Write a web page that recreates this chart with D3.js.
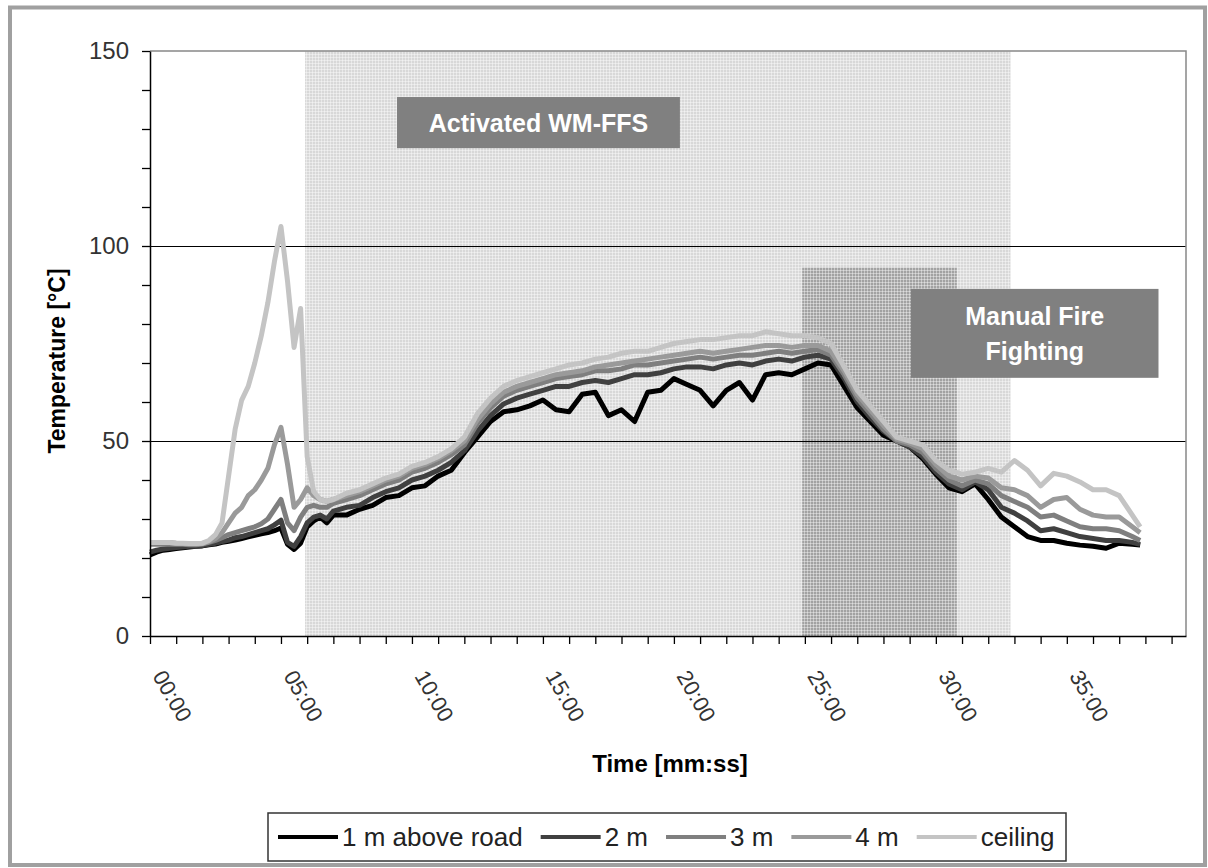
<!DOCTYPE html>
<html>
<head>
<meta charset="utf-8">
<script src="https://cdn.jsdelivr.net/npm/d3@7"></script>
<style>
body{margin:0;background:#fff;}
svg{display:block;font-family:"Liberation Sans",Arial,sans-serif;}
</style>
</head>
<body>
<svg id="chart" width="1208" height="868"></svg>
<script>
// time in minutes
var times = [0,0.25,0.5,0.75,1,1.25,1.5,1.75,2,2.25,
    2.5,2.75,3,3.25,3.5,3.75,4,4.25,4.5,4.75,
    5,5.25,5.5,5.75,6,6.25,6.5,6.75,7,
    7.5,8,8.5,9,9.5,10,10.5,11,11.5,12,
    12.5,13,13.5,14,14.5,15,15.5,16,16.5,17,
    17.5,18,18.5,19,19.5,20,20.5,21,21.5,22,
    22.5,23,23.5,24,24.5,25,25.5,26,26.5,27,
    27.5,28,28.5,29,29.5,30,30.5,31,31.5,32,
    32.5,33,33.5,34,34.5,35,35.5,36,36.5,37,
    37.5,37.8];

var t1m = [20.8,21.5,22,22.2,22.4,22.6,22.8,23,23.1,23.4,
    23.6,24,24.3,24.6,25,25.4,25.8,26.2,26.5,27,
    27.7,23.5,22.2,23.8,28,29.5,30.5,29,31,
    31,32.5,33.5,35.5,36,38,38.5,41,42.5,47,
    51,55,57.5,58,59,60.5,58,57.5,62,62.5,
    56.5,58,55,62.5,63,66,64.5,63,59,63,
    65,60.5,67,67.5,67,68.5,70,69.5,64,58.5,
    55,51.5,50,48.5,45.5,41.5,38,37,39,35,
    30.5,28,25.5,24.5,24.5,23.8,23.3,23,22.5,23.8,
    23.5,23.3];

var t2m = [21.5,22,22.3,22.5,22.7,22.8,23,23,23.2,23.5,
    23.8,24.2,24.6,25.2,25.5,26,26.5,27,27.5,28.5,
    29.7,24,23,25.5,29,30.5,31,30,32,
    33,33.5,35.5,37,38,40,41,42.5,44.5,47.5,
    52.5,56.5,59.5,61,62,63,64,64,65,65.5,
    65,66,67,67,67.5,68.5,69,69,68.5,69.5,
    70,69.5,70.5,71,70.5,71.5,72,71,66,60,
    56,52.5,50,48.5,46,42,39,37.5,39.5,37.5,
    33,31.5,29.5,27,27.5,26.5,25.5,25,24.5,24.5,
    24,23.5];

var t3m = [23.5,23.5,23.5,23.5,23.5,23.5,23.4,23.4,23.6,24,
    24.5,25.2,26,26.5,27,27.5,28,28.8,30,32.5,
    35,29,27,30.5,33,33.5,33,33,34,
    35,36,37.5,39,40,42,43,44.5,46.5,49,
    54.5,58.5,61.5,63,64,65,66,66.5,67,68,
    68,68.5,69.5,69.5,70,70.5,71,71.5,71,71.5,
    72,72,72.5,73,72.5,73,73.5,72,67,61,
    57,53,50,49,47,43,40,38.5,40,39,
    36,34.5,33,30.5,31,29.5,28,27.5,27.5,27,
    25.5,24.5];

var t4m = [24,24,24,24,23.8,23.7,23.6,23.6,23.7,24.2,
    25,26.5,29,31.5,33,36,37.5,40,43,49,
    53.5,44,33,35,38,36,35,34.5,35,
    36,37,38.5,40,41,43,44,45.5,47.5,50,
    55.5,59.5,62.5,64,65,66,67,67.5,68,69,
    69.5,70,70.5,71,71.5,72,72.5,73,72.5,73,
    73.5,74,74.5,74.5,74,74.5,74.5,73,68,62,
    58,54,50.5,49.5,48,44,41,40,41,40.5,
    38,37.5,36,33,35,35.5,32.5,31,30.5,30.5,
    28,26.5];

var tCeil = [24,24,24,24,23.8,23.8,23.7,23.7,23.8,24.5,
    26,29,41,53,60.5,64,70,77,85.5,96,
    105,91,74,84,46,37,35,34.5,35,
    36.6,37.5,39,40.5,41.5,43.5,44.5,46,48,51,
    57,61,64,65.5,66.5,67.5,68.5,69.5,70,71,
    71.5,72.5,73,73,74,75,75.5,76,76,76.5,
    77,77,78,77.5,77,77,76.5,75,69,63,
    59,55,51,50,49,45,42.5,41.5,42,43,
    42,45,42.5,38.5,41.7,41,39.5,37.5,37.5,36,
    31,28];

var seriesNames = ["1 m above road", "2 m", "3 m", "4 m", "ceiling"];
var seriesValues = [t1m, t2m, t3m, t4m, tCeil];
var seriesColors = ["#000000", "#404040", "#7f7f7f", "#9a9a9a", "#c4c4c4"];

// shaded phases [start min, end min, top temp]
var phaseWM = [5.92, 32.85, 150];
var phaseManual = [24.9, 30.8, 94.5];

var svg = d3.select("#chart");

var x = d3.scaleLinear().domain([0, 39.55]).range([150, 1186]);
var y = d3.scaleLinear().domain([0, 150]).range([636, 51]);

// outer frame
svg.append("rect")
    .attr("x", 10).attr("y", 7.5)
    .attr("width", 1195).attr("height", 857.5)
    .attr("fill", "#fff")
    .attr("stroke", "#a0a0a0")
    .attr("stroke-width", 4);

var defs = svg.append("defs");
var pat = defs.append("pattern")
    .attr("id", "grid")
    .attr("width", 3).attr("height", 3)
    .attr("patternUnits", "userSpaceOnUse");
pat.append("path")
    .attr("d", "M0 0.5H3M0.5 0V3")
    .attr("stroke", "#fff")
    .attr("stroke-opacity", 0.4)
    .attr("stroke-width", 1);

// shaded phases
svg.append("rect")
    .attr("x", x(phaseWM[0])).attr("y", y(phaseWM[2]))
    .attr("width", x(phaseWM[1]) - x(phaseWM[0]))
    .attr("height", y(0) - y(phaseWM[2]))
    .attr("fill", "#d8d8d8");
svg.append("rect")
    .attr("x", x(phaseManual[0])).attr("y", y(phaseManual[2]))
    .attr("width", x(phaseManual[1]) - x(phaseManual[0]))
    .attr("height", y(0) - y(phaseManual[2]))
    .attr("fill", "#a2a2a2");
svg.append("rect")
    .attr("x", x(phaseWM[0])).attr("y", y(phaseWM[2]))
    .attr("width", x(phaseWM[1]) - x(phaseWM[0]))
    .attr("height", y(0) - y(phaseWM[2]))
    .attr("fill", "url(#grid)");

// gridlines
svg.append("g")
    .selectAll("line")
    .data([50, 100])
    .enter()
    .append("line")
        .attr("x1", x.range()[0]).attr("x2", x.range()[1])
        .attr("y1", function(d){return y(d) + 0.5}).attr("y2", function(d){return y(d) + 0.5})
        .attr("stroke", "#000")
        .attr("stroke-width", 1.3)
        .attr("shape-rendering", "crispEdges");

// plot border top + right
svg.append("path")
    .attr("d", "M" + x.range()[0] + "," + y(150) + "H" + x.range()[1] + "V" + y(0))
    .attr("fill", "none")
    .attr("stroke", "#888")
    .attr("stroke-width", 1.5);

// lines
var line = d3.line()
    .x(function(d){return x(d[0])})
    .y(function(d){return y(d[1])});

svg.append("g")
    .selectAll("path")
    .data(seriesValues)
    .enter()
    .append("path")
        .attr("d", function(d){return line(d3.zip(times, d))})
        .attr("fill", "none")
        .attr("stroke", function(d, i){return seriesColors[i]})
        .attr("stroke-width", 5)
        .attr("stroke-linejoin", "round");

// annotation boxes
var notes = [
    {lines: ["Activated WM-FFS"], t0: 9.43, t1: 20.23, top: 138.2, bot: 125.1},
    {lines: ["Manual Fire", "Fighting"], t0: 29.05, t1: 38.5, top: 89, bot: 66.2}
];
var ng = svg.append("g").selectAll("g").data(notes).enter().append("g");
ng.append("rect")
    .attr("x", function(d){return x(d.t0)})
    .attr("y", function(d){return y(d.top)})
    .attr("width", function(d){return x(d.t1) - x(d.t0)})
    .attr("height", function(d){return y(d.bot) - y(d.top)})
    .attr("fill", "#808080");
ng.each(function(d){
    var g = d3.select(this);
    var cx = (x(d.t0) + x(d.t1)) / 2;
    var cy = (y(d.top) + y(d.bot)) / 2;
    var lh = 35;
    d.lines.forEach(function(s, i){
        g.append("text")
            .attr("x", cx)
            .attr("y", cy + (i - (d.lines.length - 1) / 2) * lh)
            .attr("dy", "0.36em")
            .attr("text-anchor", "middle")
            .attr("fill", "#fff")
            .attr("font-weight", "bold")
            .attr("font-size", 25)
            .text(s);
    });
});

// y axis
var yAxis = svg.append("g")
    .attr("transform", "translate(" + x.range()[0] + ",0)")
    .call(d3.axisLeft(y)
        .tickValues(d3.range(0, 151, 10))
        .tickSize(8)
        .tickSizeOuter(0)
        .tickPadding(13)
        .tickFormat(function(d){return d % 50 === 0 ? d : ""}));
yAxis.select(".domain").attr("stroke", "#000").attr("stroke-width", 1.5);
yAxis.selectAll(".tick line").attr("stroke", "#000").attr("stroke-width", 1.3);
yAxis.selectAll("text")
    .attr("font-family", "Liberation Sans, Arial, sans-serif")
    .attr("font-size", 24)
    .attr("fill", "#333");

// x axis
var xAxis = svg.append("g")
    .attr("transform", "translate(0," + y(0) + ")")
    .call(d3.axisBottom(x)
        .tickValues(d3.range(0, 40, 1))
        .tickSize(8)
        .tickSizeOuter(0)
        .tickFormat(""));
xAxis.select(".domain").attr("stroke", "#000").attr("stroke-width", 1.5);
xAxis.selectAll(".tick line").attr("stroke", "#000").attr("stroke-width", 1.3);

var fmt = d3.format("02d");
svg.append("g")
    .selectAll("text")
    .data(d3.range(0, 36, 5))
    .enter()
    .append("text")
        .attr("transform", function(d){return "translate(" + (x(d) + 2) + ",676) rotate(60)"})
        .attr("font-size", 22)
        .attr("fill", "#333")
        .text(function(d){return fmt(d) + ":00"});

// axis titles
svg.append("text")
    .attr("transform", "translate(65,361) rotate(-90)")
    .attr("text-anchor", "middle")
    .attr("font-weight", "bold")
    .attr("font-size", 23)
    .text("Temperature [°C]");
svg.append("text")
    .attr("x", 670).attr("y", 772)
    .attr("text-anchor", "middle")
    .attr("font-weight", "bold")
    .attr("font-size", 24)
    .text("Time [mm:ss]");

// legend
var legend = svg.append("g");
legend.append("rect")
    .attr("x", 268).attr("y", 813)
    .attr("width", 798).attr("height", 48)
    .attr("fill", "#fff")
    .attr("stroke", "#333")
    .attr("stroke-width", 1.5);
var lx = 278;
seriesNames.forEach(function(name, i){
    legend.append("line")
        .attr("x1", lx).attr("x2", lx + 60)
        .attr("y1", 837).attr("y2", 837)
        .attr("stroke", seriesColors[i])
        .attr("stroke-width", 4);
    var t = legend.append("text")
        .attr("x", lx + 64).attr("y", 846)
        .attr("font-size", 26)
        .attr("fill", "#222")
        .text(name);
    lx = lx + 64 + t.node().getComputedTextLength() + 18;
});
</script>
</body>
</html>
